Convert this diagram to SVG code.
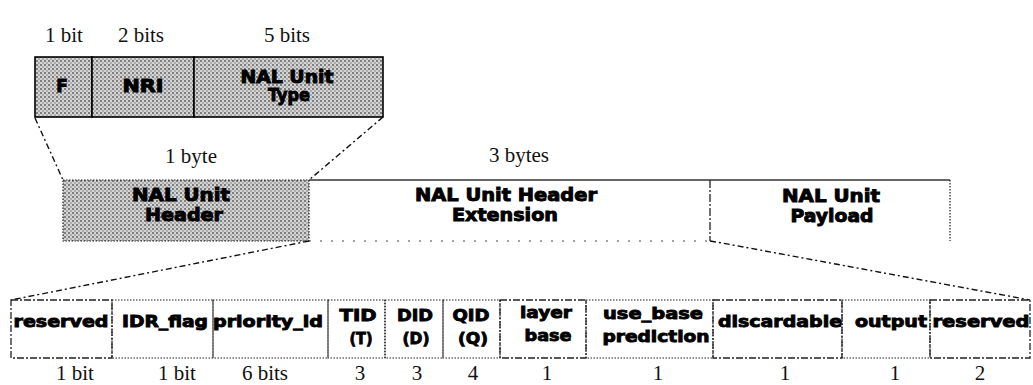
<svg xmlns="http://www.w3.org/2000/svg" width="1033" height="385" viewBox="0 0 1033 385">
<style>
.lbl{font-family:"Liberation Serif",serif;font-size:21px;fill:#111;text-anchor:middle}
.bt{font-family:"DejaVu Sans",sans-serif;font-weight:bold;font-size:16px;text-anchor:middle;fill:#000;stroke:#000;stroke-width:0.9}
.mt{font-size:17px}
.solid{stroke:#000;stroke-width:1.6}
.gray{fill:url(#stip)}
.dot{fill:none;stroke:#222;stroke-width:1.2;stroke-dasharray:1.5 1.5}
.gdot{fill:url(#stip);stroke:#222;stroke-width:1.2;stroke-dasharray:1.5 1.5}
.dash{fill:none;stroke:#222;stroke-width:1.3;stroke-dasharray:7 2 2 2}
.conn{fill:none;stroke:#111;stroke-width:1.4;stroke-dasharray:6 3 2 3}
</style>
<defs>
<pattern id="stip" width="4" height="4" patternUnits="userSpaceOnUse">
<rect width="4" height="4" fill="#d4d4d4"/>
<circle cx="1" cy="1" r="0.9" fill="#555"/>
<circle cx="3" cy="3" r="0.8" fill="#7a7a7a"/>
</pattern>
</defs>
<rect width="1033" height="385" fill="#fff"/>

<g id="top-labels">
<text class="lbl" x="64" y="42">1 bit</text>
<text class="lbl" x="141" y="42">2 bits</text>
<text class="lbl" x="287" y="42">5 bits</text>
</g>

<g id="field-F">
<rect x="35" y="57" width="57" height="60" class="gray solid"/>
<text class="bt mt" x="62" y="92">F</text>
</g>
<g id="field-NRI">
<rect x="92" y="57" width="102" height="60" class="gray solid"/>
<text class="bt mt" x="143" y="92" textLength="41" lengthAdjust="spacingAndGlyphs">NRI</text>
</g>
<g id="field-NALType">
<rect x="194" y="57" width="189" height="60" class="gray solid"/>
<text class="bt mt" x="287" y="83" textLength="93" lengthAdjust="spacingAndGlyphs">NAL Unit</text>
<text class="bt mt" x="289" y="101" textLength="42" lengthAdjust="spacingAndGlyphs">Type</text>
</g>

<g id="mid-labels">
<text class="lbl" x="191" y="163">1 byte</text>
<text class="lbl" x="519" y="162">3 bytes</text>
</g>

<g id="nal-header">
<rect x="63" y="180" width="246" height="61" class="gdot"/>
<text class="bt mt" x="181" y="201" textLength="98" lengthAdjust="spacingAndGlyphs">NAL Unit</text>
<text class="bt mt" x="184" y="221" textLength="78" lengthAdjust="spacingAndGlyphs">Header</text>
</g>
<g id="nal-header-ext">
<line x1="309" y1="180" x2="710" y2="180" stroke="#333" stroke-width="1.6"/>
<line x1="309" y1="241" x2="710" y2="241" stroke="#444" stroke-width="1.2" stroke-dasharray="2 9"/>
<text class="bt mt" x="506" y="201" textLength="182" lengthAdjust="spacingAndGlyphs">NAL Unit Header</text>
<text class="bt mt" x="505" y="221" textLength="106" lengthAdjust="spacingAndGlyphs">Extension</text>
</g>
<g id="nal-payload">
<line x1="710" y1="180" x2="950" y2="180" stroke="#333" stroke-width="1.6"/>
<line x1="950" y1="180" x2="950" y2="241" class="dot"/>
<line x1="710" y1="180" x2="710" y2="241" stroke="#222" stroke-width="1.3" stroke-dasharray="8 2 2 2"/>
<text class="bt mt" x="831" y="202" textLength="98" lengthAdjust="spacingAndGlyphs">NAL Unit</text>
<text class="bt mt" x="832" y="222" textLength="83" lengthAdjust="spacingAndGlyphs">Payload</text>
</g>

<g id="connectors">
<line x1="35" y1="118" x2="63" y2="180" class="conn"/>
<line x1="383" y1="117" x2="309" y2="180" class="conn" stroke-dasharray="3 3"/>
<line x1="309" y1="241" x2="11" y2="300" class="conn"/>
<polyline points="710,241 722,243 1030,300" class="conn"/>
</g>

<g id="f-reserved1">
<rect x="11" y="300" width="101" height="58" class="dash"/>
<text class="bt" x="61" y="327" textLength="95" lengthAdjust="spacingAndGlyphs">reserved</text>
</g>
<g id="f-idr">
<rect x="112" y="300" width="101" height="58" class="dot"/>
<text class="bt" x="165" y="327" textLength="86" lengthAdjust="spacingAndGlyphs">IDR_flag</text>
</g>
<g id="f-priority">
<rect x="213" y="300" width="115" height="58" class="dot"/>
<text class="bt" x="268" y="327" textLength="110" lengthAdjust="spacingAndGlyphs">priority_id</text>
</g>
<g id="f-tid">
<rect x="328" y="300" width="57" height="58" class="dot"/>
<text class="bt" x="358" y="321" textLength="37" lengthAdjust="spacingAndGlyphs">TID</text>
<text class="bt" x="361" y="344" textLength="23" lengthAdjust="spacingAndGlyphs">(T)</text>
</g>
<g id="f-did">
<rect x="385" y="300" width="58" height="58" class="dot"/>
<text class="bt" x="415" y="321" textLength="36" lengthAdjust="spacingAndGlyphs">DID</text>
<text class="bt" x="416" y="344" textLength="27" lengthAdjust="spacingAndGlyphs">(D)</text>
</g>
<g id="f-qid">
<rect x="443" y="300" width="57" height="58" class="dot"/>
<text class="bt" x="471" y="321" textLength="37" lengthAdjust="spacingAndGlyphs">QID</text>
<text class="bt" x="473" y="344" textLength="30" lengthAdjust="spacingAndGlyphs">(Q)</text>
</g>
<g id="f-layerbase">
<rect x="500" y="300" width="86" height="58" class="dash"/>
<text class="bt" x="546" y="318" textLength="52" lengthAdjust="spacingAndGlyphs">layer</text>
<text class="bt" x="548" y="341" textLength="47" lengthAdjust="spacingAndGlyphs">base</text>
</g>
<g id="f-usebase">
<rect x="586" y="300" width="127" height="58" class="dot"/>
<text class="bt" x="653" y="319" textLength="100" lengthAdjust="spacingAndGlyphs">use_base</text>
<text class="bt" x="656" y="342" textLength="107" lengthAdjust="spacingAndGlyphs">prediction</text>
</g>
<g id="f-discardable">
<rect x="713" y="300" width="129" height="58" class="dash"/>
<text class="bt" x="780" y="327" textLength="124" lengthAdjust="spacingAndGlyphs">discardable</text>
</g>
<g id="f-output">
<rect x="842" y="300" width="88" height="58" class="dot"/>
<text class="bt" x="891" y="327" textLength="72" lengthAdjust="spacingAndGlyphs">output</text>
</g>
<g id="f-reserved2">
<rect x="930" y="300" width="100" height="58" class="dash"/>
<text class="bt" x="981" y="327" textLength="97" lengthAdjust="spacingAndGlyphs">reserved</text>
</g>

<g id="bottom-labels">
<text class="lbl" x="75" y="380">1 bit</text>
<text class="lbl" x="177" y="380">1 bit</text>
<text class="lbl" x="265" y="380">6 bits</text>
<text class="lbl" x="360" y="380">3</text>
<text class="lbl" x="417" y="380">3</text>
<text class="lbl" x="473" y="380">4</text>
<text class="lbl" x="547" y="380">1</text>
<text class="lbl" x="658" y="380">1</text>
<text class="lbl" x="785" y="380">1</text>
<text class="lbl" x="895" y="380">1</text>
<text class="lbl" x="980" y="380">2</text>
</g>
</svg>
